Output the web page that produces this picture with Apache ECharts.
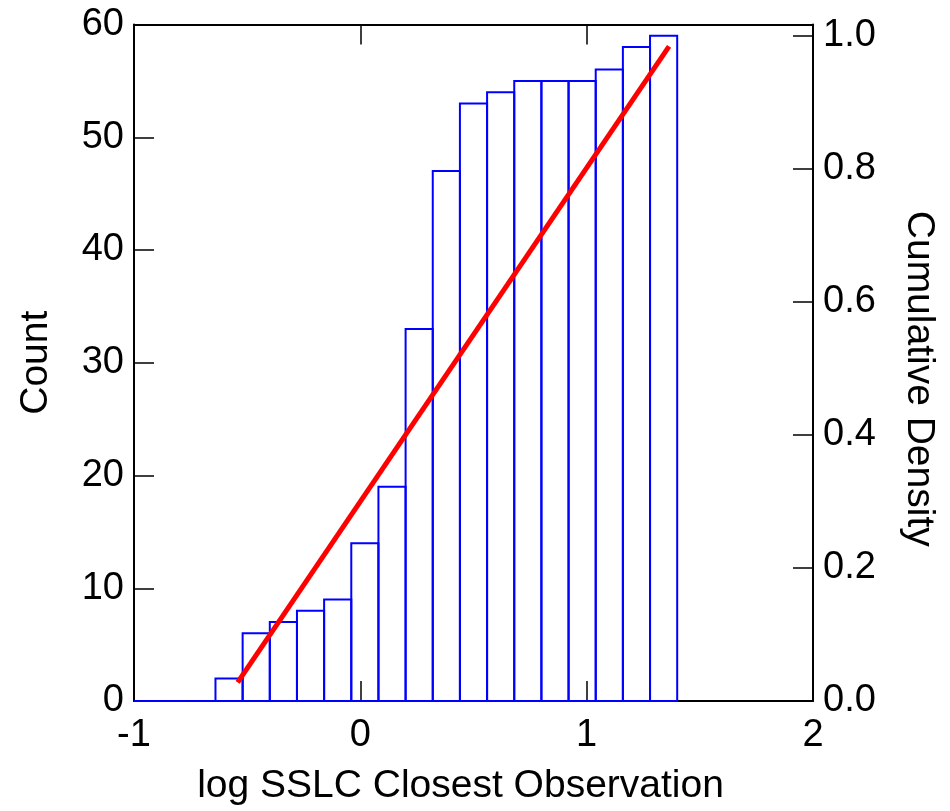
<!DOCTYPE html>
<html>
<head>
<meta charset="utf-8">
<script src="https://cdn.jsdelivr.net/npm/echarts@6/dist/echarts.min.js"></script>
<style>
html,body{margin:0;padding:0;background:#fff;}
#chart{width:950px;height:811px;}
</style>
</head>
<body>
<div id="chart"></div>
<script>
// Histogram bins (left edges, log SSLC) and cumulative counts
const binLefts = [-1, -0.88, -0.76, -0.64, -0.52, -0.40, -0.28, -0.16, -0.04, 0.08, 0.20, 0.32, 0.44, 0.56, 0.68, 0.80, 0.92, 1.04, 1.16, 1.28];
const binWidth = 0.12;
const counts = [0, 0, 0, 2, 6, 7, 8, 9, 14, 19, 33, 47, 53, 54, 55, 55, 55, 56, 58, 59];
// Fitted cumulative density line (x, density)
const fitX = [-0.542, 1.364];
const fitY = [0.028, 0.984];
// Axes
const xTicks = [-1, 0, 1, 2];
const countMax = 60;
const totalN = 59;

const FONT = "'Liberation Sans', Arial, Helvetica, sans-serif";
const chart = echarts.init(document.getElementById('chart'), null, {renderer: 'canvas'});

const histData = binLefts.map((l, i) => [l, l + binWidth, counts[i]]);
const lineData = fitX.map((x, i) => [x, fitY[i]]);

const option = {
  backgroundColor: '#ffffff',
  animation: false,
  grid: {left: 134, right: 137, top: 24.5, bottom: 107, containLabel: false},
  xAxis: [{
    type: 'value', min: xTicks[0], max: xTicks[xTicks.length - 1], interval: 1,
    position: 'bottom',
    name: 'log SSLC Closest Observation', nameLocation: 'middle', nameGap: 66,
    nameTextStyle: {fontFamily: FONT, fontSize: 39, color: '#000', padding: [0, 26, 0, 0]},
    axisLine: {show: true, onZero: false, lineStyle: {color: '#000', width: 2}},
    axisTick: {show: true, inside: true, length: 20, lineStyle: {color: '#000', width: 1.5}},
    axisLabel: {fontFamily: FONT, fontSize: 38, color: '#000', margin: 16},
    splitLine: {show: false}
  }, {
    type: 'value', min: xTicks[0], max: xTicks[xTicks.length - 1], interval: 1,
    position: 'top',
    axisLine: {show: true, onZero: false, lineStyle: {color: '#000', width: 2}},
    axisTick: {show: true, inside: true, length: 20, lineStyle: {color: '#000', width: 1.5}},
    axisLabel: {show: false},
    splitLine: {show: false}
  }],
  yAxis: [{
    type: 'value', min: 0, max: countMax, interval: 10, position: 'left',
    name: 'Count', nameLocation: 'middle', nameGap: 78, nameRotate: 90,
    nameTextStyle: {fontFamily: FONT, fontSize: 39, color: '#000'},
    axisLine: {show: true, onZero: false, lineStyle: {color: '#000', width: 2}},
    axisTick: {show: true, inside: true, length: 20, lineStyle: {color: '#000', width: 1.5}},
    axisLabel: {fontFamily: FONT, fontSize: 38, color: '#000', margin: 10},
    splitLine: {show: false}
  }, {
    type: 'value', min: 0, max: countMax / totalN, interval: 0.2, position: 'right',
    name: 'Cumulative Density', nameLocation: 'middle', nameGap: 86, nameRotate: -90,
    nameTextStyle: {fontFamily: FONT, fontSize: 39, color: '#000', padding: [0, 0, 0, 32]},
    axisLine: {show: true, onZero: false, lineStyle: {color: '#000', width: 2}},
    axisTick: {show: true, inside: true, length: 20, lineStyle: {color: '#000', width: 1.5}},
    axisLabel: {
      fontFamily: FONT, fontSize: 38, color: '#000', margin: 10, showMaxLabel: false,
      formatter: function (v) {
        if (Math.abs(v * 5 - Math.round(v * 5)) > 1e-6) return '';
        return v.toFixed(1);
      }
    },
    splitLine: {show: false}
  }],
  series: [{
    type: 'custom',
    xAxisIndex: 0, yAxisIndex: 0,
    data: histData,
    encode: {x: [0, 1], y: 2},
    z: 2,
    renderItem: function (params, api) {
      const p0 = api.coord([api.value(0), api.value(2)]);
      const p1 = api.coord([api.value(1), 0]);
      return {
        type: 'rect',
        shape: {x: p0[0], y: p0[1], width: p1[0] - p0[0], height: p1[1] - p0[1]},
        style: {fill: 'none', stroke: '#0000ff', lineWidth: 2}
      };
    }
  }, {
    type: 'line',
    xAxisIndex: 0, yAxisIndex: 1,
    data: lineData,
    symbol: 'none',
    z: 5,
    lineStyle: {color: '#ff0000', width: 5}
  }]
};
chart.setOption(option);
</script>
</body>
</html>
